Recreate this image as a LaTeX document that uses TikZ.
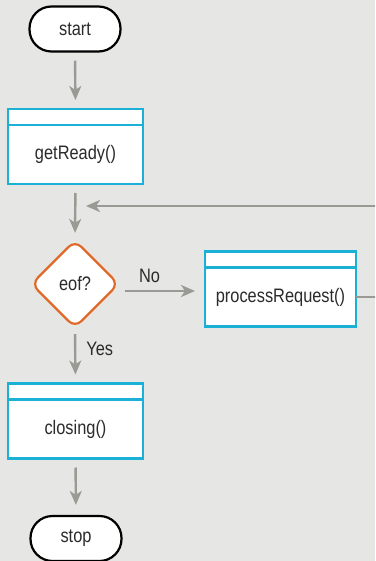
\documentclass[tikz,border=0pt]{standalone}
\usepackage{fontspec}
\setmainfont{Liberation Sans}[FakeStretch=0.84]
\usetikzlibrary{shapes.geometric,arrows.meta}
\definecolor{bg}{HTML}{E6E6E4}
\definecolor{cyanbox}{HTML}{1BB0D6}
\definecolor{orangeline}{HTML}{E0692A}
\definecolor{arrowgray}{HTML}{9A9A94}
\definecolor{txt}{HTML}{2B2B2B}
\tikzset{
  every node/.style={font=\fontsize{19.5}{22}\selectfont, text=txt},
  term/.style={draw=black, fill=white, line width=2.2pt, rectangle, rounded corners=22pt, minimum width=91pt, minimum height=45pt, inner sep=0pt},
  procbox/.style={draw=cyanbox, fill=white, line width=2.4pt, rectangle, minimum width=135pt, minimum height=59pt, inner sep=0pt, outer sep=0pt},
  hdr/.style={draw=cyanbox, fill=white, line width=2.4pt},
  decide/.style={draw=orangeline, fill=white, line width=2.2pt, diamond, aspect=1, minimum width=88pt, minimum height=88pt, inner sep=0pt, rounded corners=9pt},
  arr/.style={draw=arrowgray, line width=2.4pt, -{Stealth[length=14pt,width=12pt,inset=4pt]}},
  lbl/.style={inner sep=0pt}
}
\begin{document}
\begin{tikzpicture}[x=1pt,y=-1pt]
\clip (0,0) rectangle (375,561);
\fill[bg] (0,0) rectangle (375,561);
\useasboundingbox (0,0) rectangle (375,561);

\node[term] (start) at (75,29) {start};
\node[procbox] (ready) at (75.5,154.5) {getReady()};
\draw[hdr] (ready.north west) rectangle ([yshift=16pt]ready.north east);
\node[decide] (eof) at (75,284) {eof?};
\node[procbox, minimum width=151pt] (proc) at (280.5,297) {processRequest()};
\draw[hdr] (proc.north west) rectangle ([yshift=16pt]proc.north east);
\node[procbox] (closing) at (75.5,429) {closing()};
\draw[hdr] (closing.north west) rectangle ([yshift=16pt]closing.north east);
\node[term] (stop) at (76,538.5) {stop};

\coordinate (merge) at (86,206);
\coordinate (outside) at (400,250);

\draw[arr, shorten <=8pt, shorten >=9pt] (start.south) -- ([yshift=16pt]ready.north);
\draw[arr, shorten <=9pt, shorten >=6pt] (ready.south) -- (eof.north);
\draw[arr] ([yshift=-7pt,xshift=5pt]eof.east) -- node[lbl, pos=0.35, above=7pt] (no) {No} ([yshift=6pt,xshift=-10pt]proc.west);
\draw[arr] (proc.east) -- (proc.east -| outside) |- (merge);
\draw[arr, shorten <=5pt, shorten >=9pt] (eof.south) -- node[lbl, pos=0.36, right=10pt] (yes) {Yes} ([yshift=16pt]closing.north);
\draw[arr, shorten <=9pt, shorten >=10pt] (closing.south) -- (stop.north);
\end{tikzpicture}
\end{document}
